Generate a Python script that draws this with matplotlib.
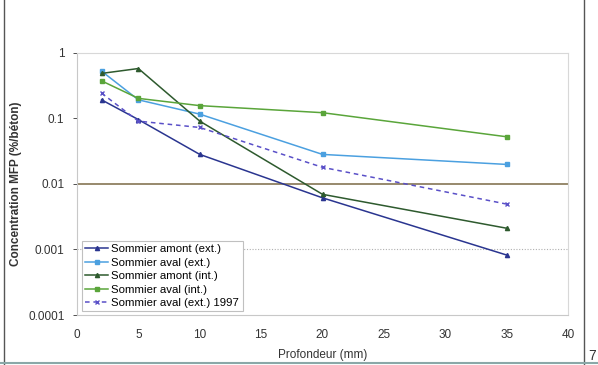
import matplotlib
matplotlib.use("Agg")
import matplotlib.pyplot as plt
from matplotlib.lines import Line2D

plt.rcParams['font.family'] = ['Liberation Sans', 'DejaVu Sans']

depth = [2, 5, 10, 20, 35]
amont_ext = [0.19, 0.095, 0.028, 0.0061, 0.00082]
aval_ext = [0.52, 0.19, 0.115, 0.028, 0.0197]
amont_int = [0.48, 0.57, 0.090, 0.0069, 0.0021]
aval_int = [0.37, 0.20, 0.155, 0.121, 0.052]
aval_ext_1997 = [0.24, 0.09, 0.072, 0.0178, 0.0049]
labels = ["Sommier amont (ext.)", "Sommier aval (ext.)", "Sommier amont (int.)",
          "Sommier aval (int.)", "Sommier aval (ext.) 1997"]
threshold = 0.01
ref_line = 0.001
xticks = [0, 5, 10, 15, 20, 25, 30, 35, 40]
yticks = [0.0001, 0.001, 0.01, 0.1, 1]
ytick_labels = ["0.0001", "0.001", "0.01", "0.1", "1"]

fig = plt.figure(figsize=(5.98, 3.65), dpi=100)
ax = fig.add_axes([77/598, 1-315/365, (568-77)/598, (315-52.5)/365])

styles = [
    dict(color="#2a3590", marker="^", ms=3, ls="-"),
    dict(color="#4ba0e0", marker="s", ms=3, ls="-"),
    dict(color="#2e5a2e", marker="^", ms=3, ls="-"),
    dict(color="#5aa53a", marker="s", ms=3, ls="-"),
    dict(color="#5a50c8", marker="x", ms=3, ls=(0, (3, 2.5))),
]
ax.axhline(ref_line, color="#b0b0b0", lw=0.8, ls=(0, (1, 1.5)), zorder=1)
ax.axhline(threshold, color="#7a6a45", lw=1.1, zorder=2)
for ys, st, lab in zip([amont_ext, aval_ext, amont_int, aval_int, aval_ext_1997], styles, labels):
    ax.plot(depth, ys, lw=1.1, label=lab, zorder=3, mew=1, **st)

ax.set_yscale("log")
ax.set_xlim(0, 40)
ax.set_ylim(0.0001, 1)
ax.set_xticks(xticks)
ax.set_yticks(yticks)
ax.set_yticklabels(ytick_labels)
ax.minorticks_off()
ax.tick_params(labelsize=8.5, colors="#333333", length=3, width=0.6, direction="out", pad=6)
ax.tick_params(axis="x", length=0, pad=10)
for s in ["top", "right"]:
    ax.spines[s].set_color("#d8d8d8")
    ax.spines[s].set_linewidth(0.8)
for s in ["left", "bottom"]:
    ax.spines[s].set_color("#c8c8c8")
    ax.spines[s].set_linewidth(0.8)

ax.set_xlabel("Profondeur (mm)", fontsize=8.5, color="#333333", labelpad=6)
ax.set_ylabel("Concentration MFP (%/béton)", fontsize=8.5, fontweight="bold", color="#333333")
ax.yaxis.set_label_coords((22-77)/491, 0.5)

leg = ax.legend(loc="lower left", bbox_to_anchor=(0.005, 0.005), fontsize=8.2, frameon=True,
                fancybox=False, edgecolor="#c0c0c0", framealpha=1, handlelength=2.0,
                handletextpad=0.3, borderpad=0.3, labelspacing=0.3, borderaxespad=0.2)
leg.get_frame().set_linewidth(0.8)

# outer frame and page number
fig.add_artist(Line2D([4/598, 4/598], [0, 1], color="#555555", lw=1.0, transform=fig.transFigure))
fig.add_artist(Line2D([584/598, 584/598], [0, 1], color="#555555", lw=1.0, transform=fig.transFigure))
fig.add_artist(Line2D([0, 1], [1-363/365, 1-363/365], color="#8aa8a8", lw=1.5, transform=fig.transFigure))
fig.text(588/598, 1-356/365, "7", fontsize=10, color="#333333", va="center", ha="left")

fig.savefig("out.png", dpi=100)
